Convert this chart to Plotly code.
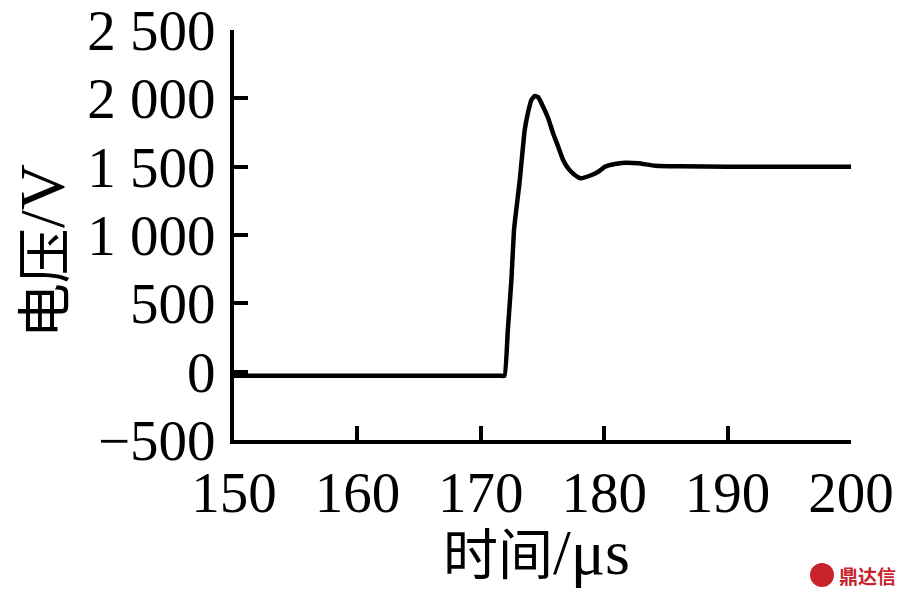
import plotly.graph_objects as go

# time (µs) and voltage (V)
time_us = [150.0, 160.0, 170.0, 171.6, 171.92, 172.19, 172.48, 172.70, 173.16, 173.56,
           173.84, 174.11, 174.37, 174.65, 175.05, 175.46, 175.86, 176.27, 176.67,
           177.08, 177.62, 178.09, 178.98, 179.52, 180.06, 180.87, 181.68, 182.77,
           184.12, 186.02, 190.0, 200.0]
voltage_v = [-30, -30, -30, -30, -30, 305, 671, 1045, 1403, 1769,
             1902, 1990, 2017, 2008, 1939, 1854, 1744, 1646, 1549,
             1488, 1439, 1415, 1439, 1463, 1500, 1520, 1529, 1525,
             1507, 1503, 1500, 1500]

x_ticks = [150, 160, 170, 180, 190, 200]
x_tick_text = ["150", "160", "170", "180", "190", "200"]
y_ticks = [-500, 0, 500, 1000, 1500, 2000, 2500]
y_tick_text = ["\u2212500", "0", "500", "1 000", "1 500", "2 000", "2 500"]

FONT = "Liberation Serif, Times New Roman, Noto Sans CJK SC, serif"

fig = go.Figure()
fig.add_trace(go.Scatter(x=time_us, y=voltage_v, mode="lines",
                         line=dict(color="black", width=4.5, shape="spline", smoothing=0.4),
                         showlegend=False))

axis_common = dict(showgrid=False, zeroline=False, showline=True, linecolor="black",
                   linewidth=4, ticks="inside", ticklen=14, tickwidth=4, tickcolor="black",
                   tickfont=dict(family=FONT, size=57), automargin=False,
                   ticklabeloverflow="allow")

fig.update_layout(
    width=910, height=598,
    margin=dict(l=226, r=67, t=22, b=166, autoexpand=False),
    plot_bgcolor="white", paper_bgcolor="white",
    font=dict(family=FONT, size=57, color="black"),
    xaxis=dict(range=[150, 200], tickvals=x_ticks, ticktext=x_tick_text, **axis_common),
    yaxis=dict(range=[-500, 2500], tickvals=y_ticks, ticktext=y_tick_text,
               ticklabelstandoff=3, **axis_common),
    annotations=[
        dict(text="时间<span style='font-size:64px'>/μs</span>", xref="paper", yref="paper",
             x=0.49, y=-0.275, xanchor="center", yanchor="middle", showarrow=False,
             font=dict(family=FONT, size=55)),
        dict(text="电压<span style='font-size:64px'>/V</span>", xref="paper", yref="paper",
             x=-0.31, y=0.46, xanchor="center", yanchor="middle", showarrow=False,
             textangle=-90, font=dict(family=FONT, size=55)),
        dict(text="<b>鼎达信</b>", xref="paper", yref="paper", x=1.027, y=-0.33,
             xanchor="center", yanchor="middle", showarrow=False,
             font=dict(family="Noto Sans CJK SC", size=19, color="#c8232c")),
    ],
    shapes=[
        dict(type="circle", xref="paper", yref="paper",
             x0=(809 - 233) / 617, x1=(833 - 233) / 617,
             y0=(440 - 587) / 410, y1=(440 - 563) / 410,
             fillcolor="#c8232c", line=dict(width=0)),
    ],
)

fig.write_html("out.html")
